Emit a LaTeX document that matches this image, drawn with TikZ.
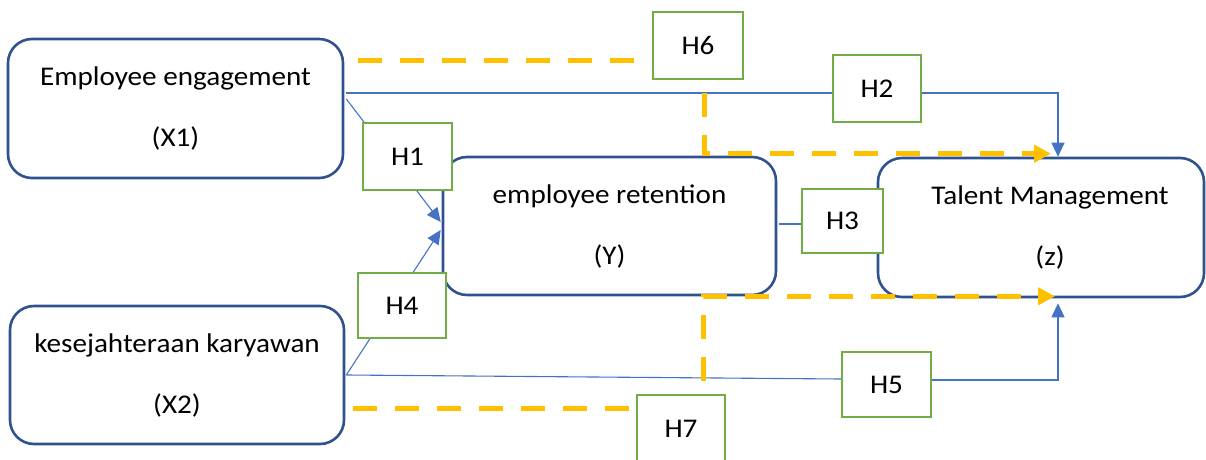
\documentclass[tikz,border=0pt]{standalone}
\usepackage{fontspec}
\setmainfont[FakeStretch=1.08]{Carlito}
\usetikzlibrary{arrows.meta,calc}
\pgfdeclarelayer{front}
\pgfsetlayers{main,front}
\definecolor{boxblue}{HTML}{2F528F}
\definecolor{linkblue}{HTML}{4472C4}
\definecolor{hypgreen}{HTML}{70AD47}
\definecolor{medgold}{HTML}{FFC000}

\begin{document}
\begin{tikzpicture}[x=1pt,y=1pt,
  varbox/.style={draw=boxblue,line width=2.6pt,rounded corners=24pt,
    align=center,font=\fontsize{27}{61}\selectfont,inner sep=0pt},
  hyp/.style={draw=hypgreen,line width=2.4pt,fill=white,
    font=\fontsize{27}{32}\selectfont,inner sep=0pt},
  link/.style={draw=linkblue,line width=1.1pt},
  linkarrow/.style={link,-{Triangle[length=14pt,width=13pt]}},
  medline/.style={draw=medgold,line width=5pt,dash pattern=on 24pt off 18pt},
  medpath/.style={medline,dash phase=29pt,
    -{Triangle[length=17pt,width=17pt]}}]

\useasboundingbox (0,0) rectangle (1206,459);
\clip (0,0) rectangle (1206,459);

% variable boxes
\node[varbox,minimum width=335pt,minimum height=139pt] (x1) at (175.5,350.5)
  {Employee engagement\\(X1)};
\node[varbox,minimum width=334pt,minimum height=138pt] (x2) at (177,84)
  {kesejahteraan karyawan\\(X2)};
\node[varbox,minimum width=333pt,minimum height=138pt] (y) at (609.5,233)
  {employee retention\\(Y)};
\node[varbox,minimum width=326pt,minimum height=139pt] (z) at (1041,231.5)
  {\hspace*{18pt}Talent Management\\\hspace*{18pt}(z)};

% hypothesis labels, drawn over the connectors
\begin{pgfonlayer}{front}
\clip (0,0) rectangle (1206,459);
\node[hyp,minimum width=90pt,minimum height=67pt] (h6) at (698,413.5) {H6};
\node[hyp,minimum width=89pt,minimum height=67pt] (h1) at (407.5,302.5) {H1};
\node[hyp,minimum width=88pt,minimum height=67pt] (h2) at (877,370.5) {H2};
\node[hyp,minimum width=81pt,minimum height=64pt] (h3) at (842.5,238) {H3};
\node[hyp,minimum width=88pt,minimum height=65pt] (h4) at (402,153.5) {H4};
\node[hyp,minimum width=89pt,minimum height=65pt] (h5) at (886.5,74.5) {H5};
\node[hyp,minimum width=88pt,minimum height=67pt] (h7) at (681,30.5) {H7};
\end{pgfonlayer}

% connector end points on the boxes
\coordinate (a2) at ($(x1.east)+(2,15.5)$);
\coordinate (a1) at ($(x1.east)+(2,9.5)$);
\coordinate (g6) at ($(x1.east)+(14,47.5)$);
\coordinate (g7) at ($(x2.east)+(8,-33)$);
\coordinate (yin1) at ($(y.west)+(-1,4)$);
\coordinate (yin4) at ($(y.west)+(-1,-4)$);
\coordinate (zt) at ($(z.north)+(17,0)$);
\coordinate (zb) at ($(z.south)+(17,-5)$);
\coordinate (zgt) at ($(z.north)+(10,3)$);
\coordinate (zgb) at ($(z.south)+(14,2)$);
\coordinate (c3) at ($(y.east)+(2,2)$);

% direct effects
\draw[link] (a2) -- (a2 -| h2.west);
\draw[linkarrow] (a2 -| h2.east) -| (zt);
\draw[linkarrow] (a1) -- (yin1);
\draw[linkarrow] ($(x2.east)+(1,0)$) -- (yin4);
\draw[link] ($(x2.east)+(1,0)$) -- ($(h5.west)+(0,5.5)$);
\draw[linkarrow] ($(h5.east)+(0,4.5)$) -| (zb);
\draw[link] (c3) -- (c3 -| h3.west);

% mediated effects
\draw[medline] (g6) -- (g6 -| h6.west);
\draw[medpath] ($(h6.south)+(6,0)$) |- (zgt);
\draw[medline] (g7) -- (g7 -| h7.west);
\draw[medpath] ($(h7.north)+(22,0)$) |- (zgb);
\end{tikzpicture}
\end{document}
